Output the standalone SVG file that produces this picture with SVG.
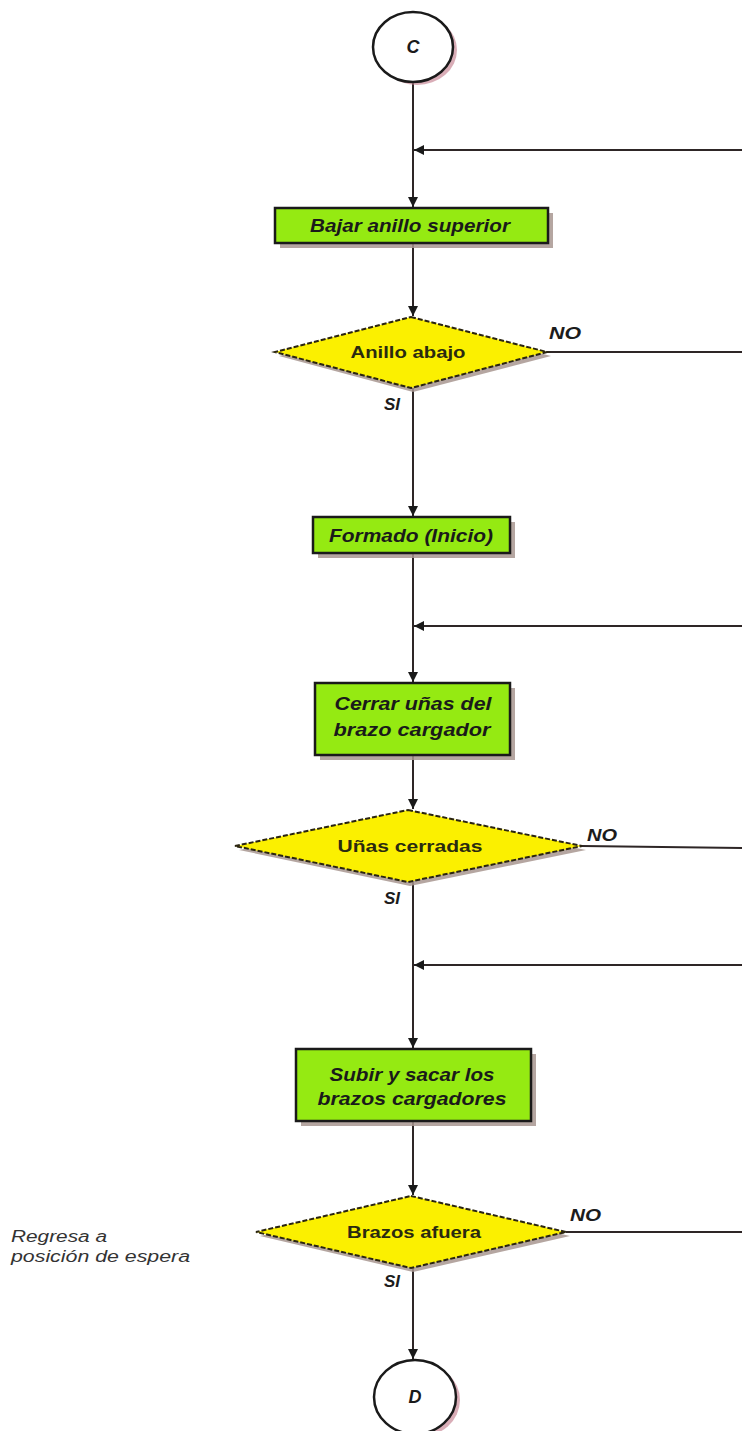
<svg xmlns="http://www.w3.org/2000/svg" width="742" height="1431" viewBox="0 0 742 1431">
  <style>
    .bg { fill: #ffffff; }
    .wire { fill: none; stroke: #2e2626; stroke-width: 2; }
    .proc { fill: #95ea12; stroke: #1a1a1a; stroke-width: 2.5; }
    .dec { fill: #fbf000; stroke: #2a2410; stroke-width: 2; stroke-dasharray: 5 2; }
    .shadow { fill: #a89690; opacity: 0.85; }
    .term { fill: #ffffff; stroke: #1a1a1a; stroke-width: 2.5; }
    .tshadow { fill: #c98a98; opacity: 0.7; }
    .ptext { font-family: "Liberation Sans", Arial, sans-serif; font-weight: bold; font-style: italic; font-size: 18px; fill: #1a1a1a; text-anchor: middle; }
    .dtext { font-family: "Liberation Sans", Arial, sans-serif; font-weight: bold; font-size: 17px; fill: #2a2a10; text-anchor: middle; }
    .lbl { font-family: "Liberation Sans", Arial, sans-serif; font-weight: bold; font-style: italic; font-size: 17px; fill: #1c1c1c; }
    .note { font-family: "Liberation Sans", Arial, sans-serif; font-style: italic; font-size: 16px; fill: #333333; }
  </style>
  <defs>
    <marker id="arrow" viewBox="0 0 10 10" refX="10" refY="5" markerWidth="5" markerHeight="5" orient="auto" markerUnits="strokeWidth">
      <path d="M0,0 L10,5 L0,10 z" fill="#1a1a1a"/>
    </marker>
  </defs>

  <rect class="bg" x="0" y="0" width="742" height="1431"/>

  <!-- connectors -->
  <g id="connectors">
    <line class="wire" x1="413" y1="82" x2="413" y2="207" marker-end="url(#arrow)"/>
    <line class="wire" x1="742" y1="150" x2="414" y2="150" marker-end="url(#arrow)"/>
    <line class="wire" x1="413" y1="243" x2="413" y2="316" marker-end="url(#arrow)"/>
    <line class="wire" x1="547" y1="352" x2="742" y2="352"/>
    <line class="wire" x1="413" y1="388" x2="413" y2="516" marker-end="url(#arrow)"/>
    <line class="wire" x1="413" y1="553" x2="413" y2="682" marker-end="url(#arrow)"/>
    <line class="wire" x1="742" y1="626" x2="414" y2="626" marker-end="url(#arrow)"/>
    <line class="wire" x1="413" y1="755" x2="413" y2="809" marker-end="url(#arrow)"/>
    <line class="wire" x1="582" y1="846" x2="742" y2="848"/>
    <line class="wire" x1="413" y1="882" x2="413" y2="1048" marker-end="url(#arrow)"/>
    <line class="wire" x1="742" y1="965" x2="414" y2="965" marker-end="url(#arrow)"/>
    <line class="wire" x1="413" y1="1121" x2="413" y2="1195" marker-end="url(#arrow)"/>
    <line class="wire" x1="566" y1="1232" x2="742" y2="1232"/>
    <line class="wire" x1="413" y1="1268" x2="413" y2="1359" marker-end="url(#arrow)"/>
  </g>

  <!-- start connector C -->
  <g id="node-c">
    <ellipse class="tshadow" cx="417" cy="50" rx="40" ry="35"/>
    <ellipse class="term" cx="413" cy="47" rx="40" ry="35"/>
    <text class="ptext" x="413" y="53" font-size="16">C</text>
  </g>

  <g id="node-bajar">
    <rect class="shadow" x="280" y="213" width="273" height="35"/>
    <rect class="proc" x="275" y="208" width="273" height="35"/>
    <text class="ptext" x="410" y="232" textLength="200" lengthAdjust="spacingAndGlyphs">Bajar anillo superior</text>
  </g>

  <g id="node-anillo">
    <polygon class="shadow" points="413,321 551,356 413,392 279,356"/>
    <polygon class="dec" points="411,317 547,352 411,388 275,352"/>
    <text class="dtext" x="408" y="358" textLength="115" lengthAdjust="spacingAndGlyphs">Anillo abajo</text>
    <text class="lbl" x="549" y="339" textLength="32" lengthAdjust="spacingAndGlyphs">NO</text>
    <text class="lbl" x="384" y="410">SI</text>
  </g>

  <g id="node-formado">
    <rect class="shadow" x="318" y="522" width="197" height="36"/>
    <rect class="proc" x="313" y="517" width="197" height="36"/>
    <text class="ptext" x="411" y="542" textLength="164" lengthAdjust="spacingAndGlyphs">Formado (Inicio)</text>
  </g>

  <g id="node-cerrar">
    <rect class="shadow" x="320" y="688" width="195" height="72"/>
    <rect class="proc" x="315" y="683" width="195" height="72"/>
    <text class="ptext" x="413" y="710" textLength="157" lengthAdjust="spacingAndGlyphs">Cerrar uñas del</text>
    <text class="ptext" x="412" y="736" textLength="157" lengthAdjust="spacingAndGlyphs">brazo cargador</text>
  </g>

  <g id="node-unas">
    <polygon class="shadow" points="410,814 586,850 410,886 239,850"/>
    <polygon class="dec" points="408,810 582,846 408,882 235,846"/>
    <text class="dtext" x="410" y="852" textLength="145" lengthAdjust="spacingAndGlyphs">Uñas cerradas</text>
    <text class="lbl" x="587" y="841" textLength="30" lengthAdjust="spacingAndGlyphs">NO</text>
    <text class="lbl" x="384" y="904">SI</text>
  </g>

  <g id="node-subir">
    <rect class="shadow" x="301" y="1054" width="235" height="72"/>
    <rect class="proc" x="296" y="1049" width="235" height="72"/>
    <text class="ptext" x="412" y="1081" textLength="165" lengthAdjust="spacingAndGlyphs">Subir y sacar los</text>
    <text class="ptext" x="412" y="1105" textLength="189" lengthAdjust="spacingAndGlyphs">brazos cargadores</text>
  </g>

  <g id="node-brazos">
    <polygon class="shadow" points="413,1200 570,1236 413,1272 260,1236"/>
    <polygon class="dec" points="411,1196 566,1232 411,1268 256,1232"/>
    <text class="dtext" x="414" y="1238" textLength="134" lengthAdjust="spacingAndGlyphs">Brazos afuera</text>
    <text class="lbl" x="570" y="1221" textLength="31" lengthAdjust="spacingAndGlyphs">NO</text>
    <text class="lbl" x="384" y="1287">SI</text>
  </g>

  <g id="note-espera">
    <text class="note" x="11" y="1242" textLength="96" lengthAdjust="spacingAndGlyphs">Regresa a</text>
    <text class="note" x="11" y="1262" textLength="179" lengthAdjust="spacingAndGlyphs">posición de espera</text>
  </g>

  <!-- end connector D -->
  <g id="node-d">
    <ellipse class="tshadow" cx="419" cy="1400" rx="41" ry="37"/>
    <ellipse class="term" cx="415" cy="1397" rx="41" ry="37"/>
    <text class="ptext" x="415" y="1403" font-size="16">D</text>
  </g>
</svg>
